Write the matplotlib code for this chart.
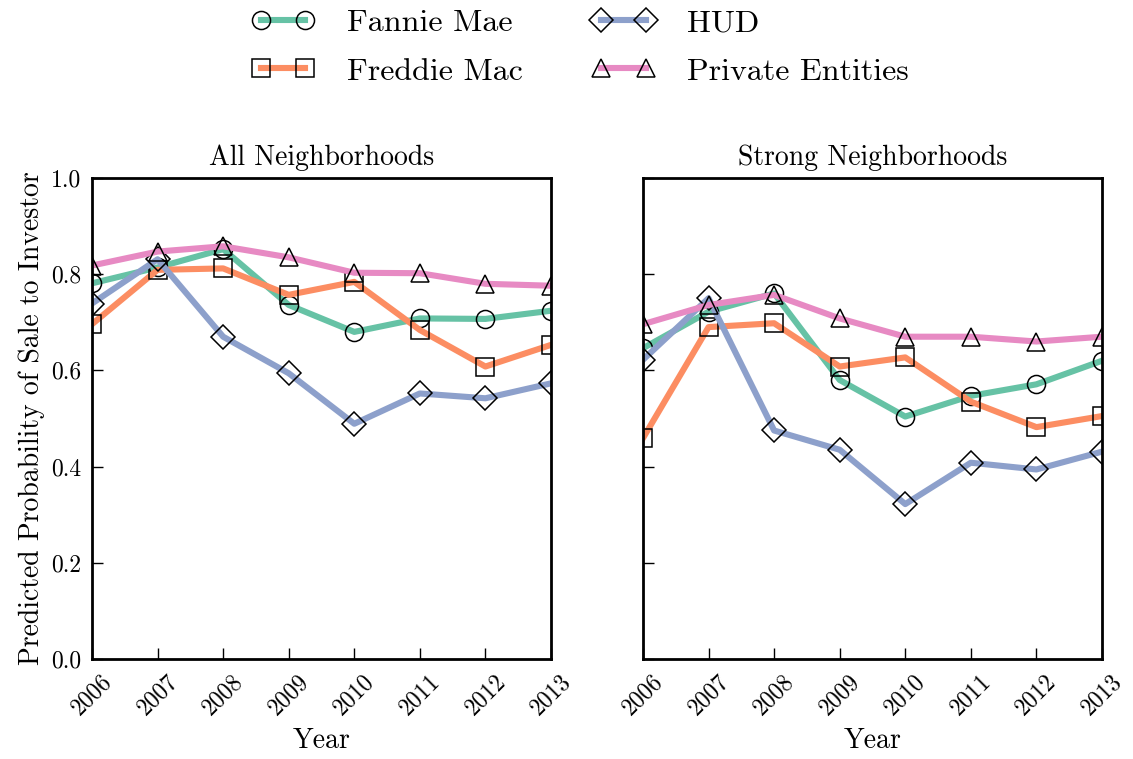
import matplotlib
matplotlib.use("Agg")
import matplotlib.pyplot as plt

plt.rcParams["font.family"] = "serif"
plt.rcParams["font.serif"] = ["cmr10", "DejaVu Serif"]
plt.rcParams["mathtext.fontset"] = "cm"
plt.rcParams["axes.formatter.use_mathtext"] = True
plt.rcParams["axes.unicode_minus"] = False

years = [2006, 2007, 2008, 2009, 2010, 2011, 2012, 2013]
series = ["Fannie Mae", "Freddie Mac", "HUD", "Private Entities"]

# all neighborhoods
all_fannie = [0.781, 0.814, 0.852, 0.736, 0.680, 0.708, 0.707, 0.724]
all_freddie = [0.696, 0.809, 0.812, 0.757, 0.784, 0.684, 0.608, 0.653]
all_hud = [0.739, 0.831, 0.670, 0.594, 0.489, 0.552, 0.542, 0.573]
all_private = [0.818, 0.847, 0.858, 0.835, 0.803, 0.802, 0.780, 0.776]

# strong neighborhoods
strong_fannie = [0.646, 0.722, 0.760, 0.580, 0.504, 0.547, 0.571, 0.620]
strong_freddie = [0.459, 0.690, 0.698, 0.608, 0.627, 0.535, 0.482, 0.505]
strong_hud = [0.622, 0.750, 0.475, 0.435, 0.322, 0.408, 0.394, 0.431]
strong_private = [0.696, 0.736, 0.757, 0.708, 0.670, 0.670, 0.660, 0.670]

colors = ["#66c2a5", "#fc8d62", "#8da0cb", "#e78ac3"]
markers = ["o", "s", "D", "^"]
msizes = [13, 13, 12, 13]

panels = [
    ("All Neighborhoods", [all_fannie, all_freddie, all_hud, all_private]),
    ("Strong Neighborhoods", [strong_fannie, strong_freddie, strong_hud, strong_private]),
]

fig = plt.figure(figsize=(11.33, 7.59), dpi=100)
ax1 = fig.add_axes([0.0812, 0.1318, 0.4051, 0.6337])
ax2 = fig.add_axes([0.5675, 0.1318, 0.4051, 0.6337], sharey=ax1)

handles = []
for ax, (title, data) in zip([ax1, ax2], panels):
    for name, vals, c, m, ms in zip(series, data, colors, markers, msizes):
        h, = ax.plot(years, vals, color=c, linewidth=4.4, marker=m,
                     markersize=ms, markerfacecolor="none",
                     markeredgecolor="black", markeredgewidth=1.1,
                     label=name)
        if ax is ax1:
            handles.append(h)
    ax.set_title(title, fontsize=20, pad=9)
    ax.set_xlim(2006, 2013)
    ax.set_ylim(0, 1.0)
    ax.set_xticks(years)
    ax.set_xticklabels([str(y) for y in years], rotation=45)
    ax.set_yticks([0.0, 0.2, 0.4, 0.6, 0.8, 1.0])
    ax.set_xlabel("Year", fontsize=20, labelpad=6)
    ax.tick_params(direction="in", length=8, width=1, labelsize=17,
                   top=False, right=False, pad=8)
    for sp in ax.spines.values():
        sp.set_linewidth(2.0)

ax1.set_yticklabels(["0.0", "0.2", "0.4", "0.6", "0.8", "1.0"])
ax1.set_ylabel("Predicted Probability of Sale to Investor", fontsize=20,
               labelpad=4)
plt.setp(ax2.get_yticklabels(), visible=False)

fig.legend(handles=handles, loc="upper center", bbox_to_anchor=(0.512, 1.026),
           ncol=2, frameon=False, fontsize=23, numpoints=2,
           handlelength=2.0, handletextpad=1.0, columnspacing=2.15,
           labelspacing=0.62)

fig.savefig("out.png", dpi=100)
